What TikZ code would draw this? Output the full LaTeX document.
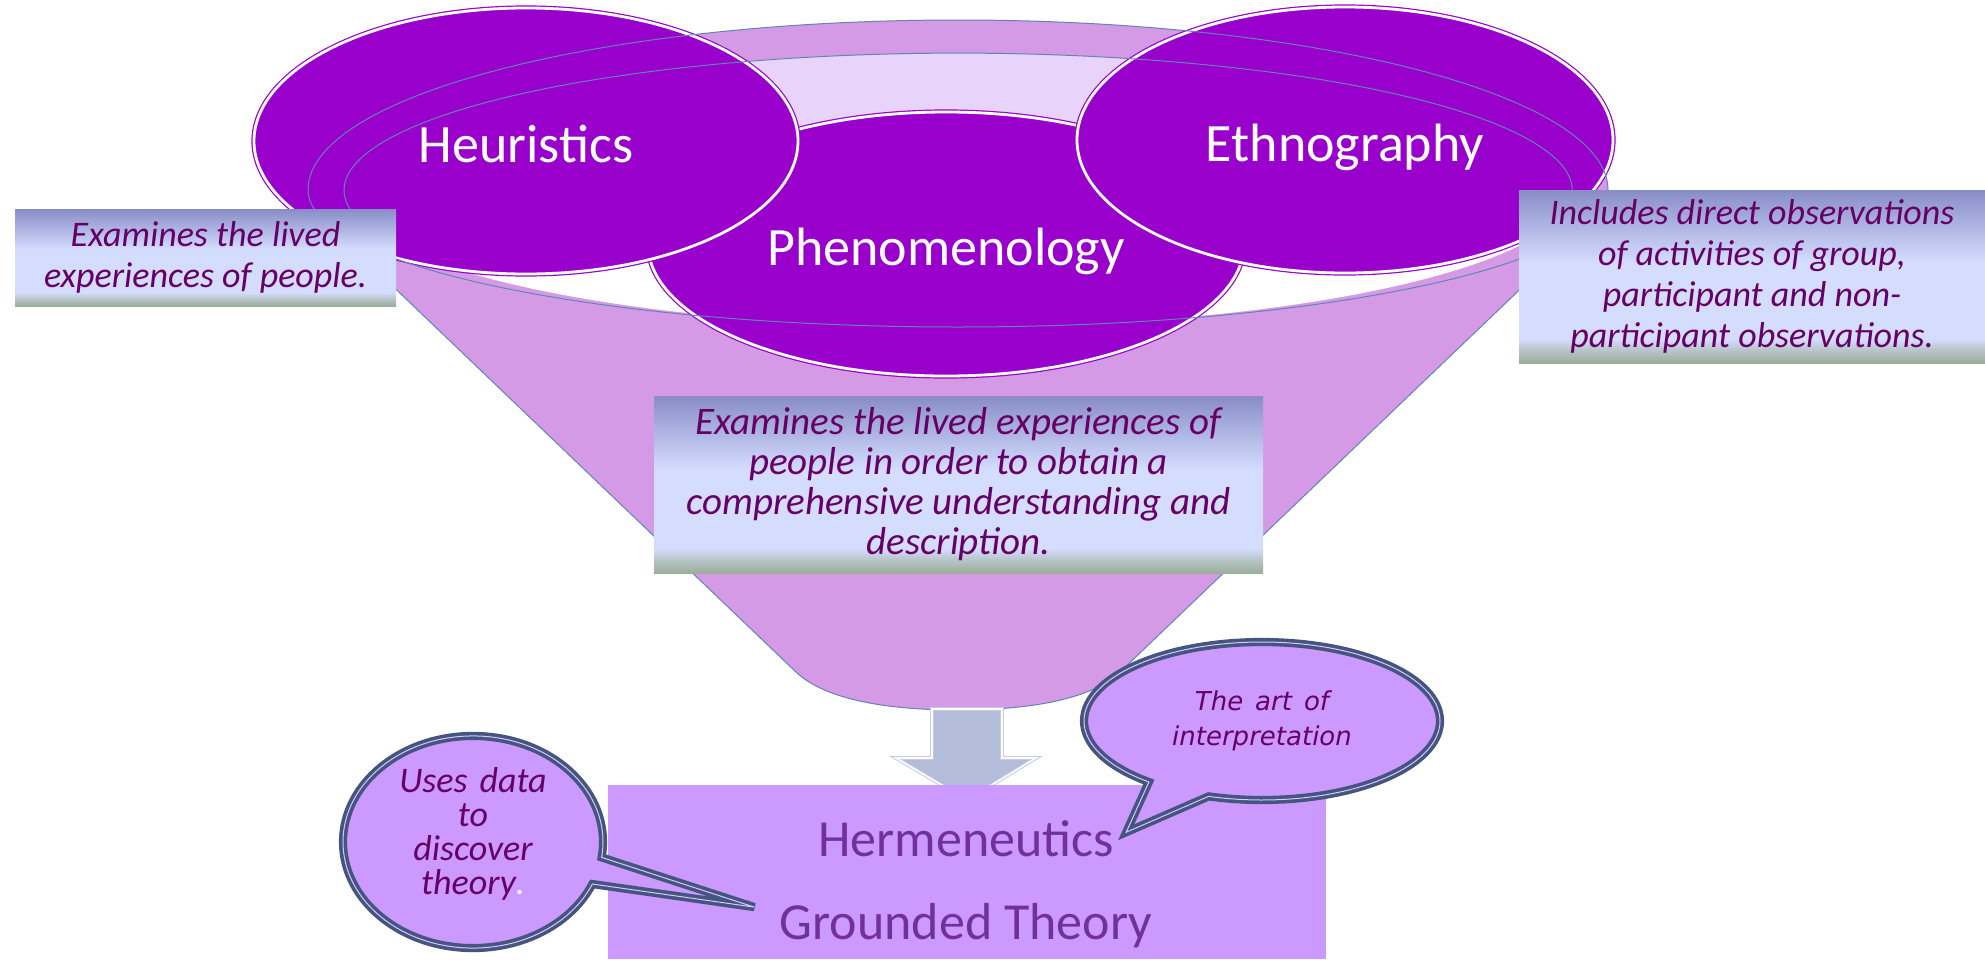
\documentclass[tikz,border=0pt]{standalone}
\usepackage{fontspec}
\setmainfont{Carlito}
\newfontfamily\bubblefont{DejaVu Sans}
\usetikzlibrary{shapes, calc}

\definecolor{funnelfill}{HTML}{D49AE6}
\definecolor{rimline}{HTML}{6484B6}
\definecolor{openlav}{HTML}{E8D4FA}
\definecolor{circfill}{HTML}{9900CC}
\definecolor{notetext}{HTML}{660066}
\definecolor{notetop}{HTML}{888DC6}
\definecolor{notemid}{HTML}{D5DDFF}
\definecolor{notemix}{HTML}{BAC6CC}
\definecolor{notebot}{HTML}{9BAE9A}
\definecolor{arrowfill}{HTML}{B3BCD9}
\definecolor{arrowline}{HTML}{C3CBE6}
\definecolor{theoryfill}{HTML}{CC99FF}
\definecolor{theorytext}{HTML}{7030A0}
\definecolor{bubbleline}{HTML}{44557F}
\definecolor{bubbleinner}{HTML}{DCC4FF}

\pgfdeclareverticalshading{notegrad}{100bp}{color(0bp)=(notebot); color(25bp)=(notebot); color(29bp)=(notemix); color(32bp)=(notemid); color(54bp)=(notemid); color(75bp)=(notetop); color(100bp)=(notetop)}
\pgfdeclareverticalshading{opening}{100bp}{color(0bp)=(white); color(25bp)=(white); color(42bp)=(white); color(58bp)=(openlav); color(75bp)=(openlav); color(100bp)=(openlav)}

\tikzstyle{rim} = [draw=rimline, line width=0.5pt]
\tikzstyle{circ} = [ellipse, fill=circfill, draw=circfill, double=white, line width=0.6pt, double distance=1.4pt, inner sep=0pt, text=white, font=\fontsize{27}{30}\selectfont, text height=21pt, text depth=0pt]
\tikzstyle{note} = [rectangle, shade, shading=notegrad, inner sep=0pt, align=center, text=notetext, font=\fontsize{18}{20.5}\selectfont\itshape]
\tikzstyle{theory} = [inner sep=0pt, text=theorytext, font=\fontsize{26}{30}\selectfont]
\tikzstyle{bubble} = [ellipse callout, callout pointer arc=15, fill=theoryfill, draw=bubbleline, double=bubbleinner, line width=1.8pt, double distance=0.5pt, inner sep=0pt, align=center, text=notetext]

\begin{document}
\begin{tikzpicture}[x=0.5pt, y=-0.5pt]
	\useasboundingbox (0,0) rectangle (1985,959);
	\fill[white] (0,0) rectangle (1985,959);

	% funnel body and rim
	\fill[funnelfill] (334,230) -- (797,673) .. controls (830,703) and (900,710) .. (958,710)
		.. controls (1016,710) and (1086,703) .. (1119,673) -- (1582,230) -- cycle;
	\draw[rim] (334,230) -- (797,673) .. controls (830,703) and (900,710) .. (958,710)
		.. controls (1016,710) and (1086,703) .. (1119,673) -- (1582,230);
	\fill[funnelfill] (1608,190) arc [start angle=0, end angle=-180, x radius=650, y radius=170]
		arc [start angle=180, end angle=0, x radius=650, y radius=137] -- cycle;
	\shade[shading=opening] (1572,190) arc [start angle=0, end angle=-180, x radius=614, y radius=137]
		arc [start angle=180, end angle=0, x radius=614, y radius=137] -- cycle;

	\node [circ, minimum width=298pt, minimum height=132pt] (phen) at (946,244) {Phenomenology};
	\node [circ, minimum width=272pt, minimum height=133pt] (heur) at (526,141) {Heuristics};
	\node [circ, minimum width=268pt, minimum height=133pt] (ethno) at (1345,140) {Ethnography};

	\draw[rim] (1608,190) arc [start angle=0, end angle=-180, x radius=650, y radius=170]
		arc [start angle=180, end angle=0, x radius=650, y radius=137] -- cycle;
	\draw[rim] (1535,237) arc [start angle=20, end angle=-200, x radius=614, y radius=137];

	% notes
	\node [note, minimum width=190.5pt, minimum height=48.5pt] (heurnote) at (205.5,257.5)
		{Examines the lived\\experiences of people.};
	\node [note, minimum width=233pt, minimum height=86.5pt] (ethnonote) at (1752,276.5)
		{Includes direct observations\\of activities of group,\\participant and non-\\participant observations.};
	\node [note, minimum width=304.5pt, minimum height=88.5pt, font=\fontsize{19.5}{20}\selectfont\itshape] (phennote) at (958.5,484.5)
		{Examines the lived experiences of\\people in order to obtain a\\comprehensive understanding and\\description.};

	% down arrow into the theories box
	\filldraw[fill=arrowfill, draw=arrowline, double=white, line width=0.5pt, double distance=0.8pt]
		(932,709) -- (1002,709) -- (1002,758) -- (1036,758) -- (967,800) -- (896,758) -- (932,758) -- cycle;

	\node [fill=theoryfill, inner sep=0pt, minimum width=359pt, minimum height=87pt] (theories) at (967,872) {};
	\node [theory, anchor=base] (herm) at (966,856) {Hermeneutics};
	\node [theory, anchor=base] (grounded) at (966,939) {Grounded Theory};

	% speech bubbles
	\node [bubble, minimum width=130pt, minimum height=100pt, font=\fontsize{18}{17}\selectfont\itshape, text depth=11.5pt,
		callout absolute pointer={($(grounded.west)+(-25,-18)$)}] (datanote) at (473,842)
		{Uses\hspace{6pt}data\\to\\discover\\theory{\color{white}.}};
	\node [bubble, minimum width=178pt, minimum height=79pt, callout pointer arc=22, font=\bubblefont\fontsize{13}{17.5}\selectfont\itshape,
		callout absolute pointer={($(herm.east)+(12,-6)$)}] (artnote) at (1262,721)
		{The\hspace{6pt}art\hspace{6pt}of\\interpretation};
\end{tikzpicture}
\end{document}
